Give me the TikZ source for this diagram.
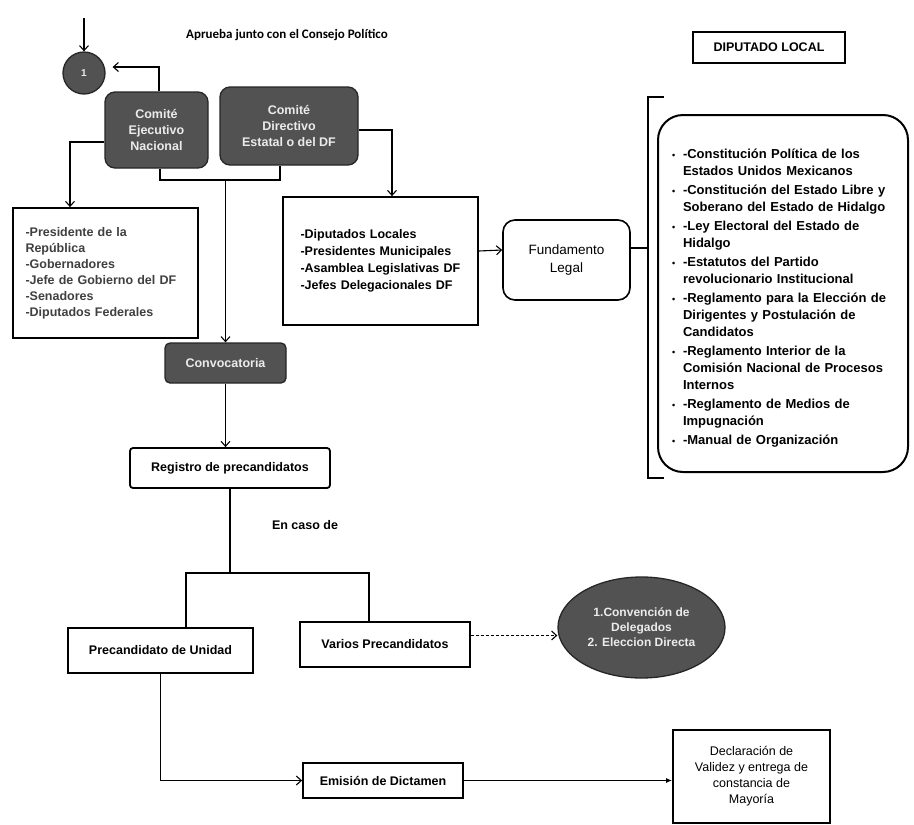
\documentclass[tikz,border=0pt]{standalone}
\usepackage{fontspec}
\setmainfont{Liberation Sans}
\newfontfamily\calibrifont{Carlito}
\usetikzlibrary{arrows.meta,shapes.geometric}

\newcommand{\vineta}[1]{\par\vspace{2pt}\hangindent=11pt\hangafter=1\noindent\makebox[11pt][l]{\small\textbullet}#1}

\begin{document}
\begin{tikzpicture}[
    x=1pt, y=-1pt,
    every node/.style={font=\bfseries\fontsize{12.5}{16}\selectfont},
    gris/.style={draw=black!85, fill=black!68, text=white!92!black, line width=1.3pt, align=center},
    caja/.style={draw, line width=1.8pt, fill=white, align=center},
    lista/.style={caja, align=left, text width=160pt},
    conector/.style={draw, line width=1.1pt},
    flecha/.style={conector, -{Straight Barb[length=5pt,width=9pt,line width=1.1pt]}},
    flechita/.style={conector, -{Latex[length=6pt,width=5pt]}}
]
\useasboundingbox[fill=white] (0,0) rectangle (914,825);

% Comites y punto de inicio
\node[gris, circle, minimum size=42pt, font=\bfseries\fontsize{10}{12}\selectfont] (uno) at (84,73) {1};
\node[font=\calibrifont\bfseries\fontsize{13}{15}\selectfont] (aprueba) at (287,35) {Aprueba junto con el Consejo Político};
\node[gris, rounded corners=10pt, minimum width=103pt, minimum height=76pt] (cen) at (156.5,130) {Comité\\Ejecutivo\\Nacional};
\node[gris, rounded corners=10pt, minimum width=138pt, minimum height=78pt] (cde) at (289,126) {Comité\\Directivo\\Estatal o del DF};

% Cargos
\node[lista, text=black!75, minimum width=185pt, minimum height=130pt] (pres) at (105.5,273)
    {-Presidente de la\\República\\-Gobernadores\\-Jefe de Gobierno del DF\\-Senadores\\-Diputados Federales};
\node[lista, minimum width=195pt, minimum height=128pt, font=\bfseries\fontsize{12.5}{17}\selectfont] (dip) at (380.5,261)
    {-Diputados Locales\\-Presidentes Municipales\\-Asamblea Legislativas DF\\-Jefes Delegacionales DF};
\node[caja, rounded corners=12pt, line width=1.6pt, minimum width=127pt, minimum height=80pt, font=\fontsize{13.5}{18}\selectfont] (fund) at (566.5,260) {Fundamento\\Legal};

% Fundamento legal
\node[caja, line width=1.2pt, minimum width=152pt, minimum height=31pt] (dipl) at (769,47.5) {DIPUTADO LOCAL};
\node[caja, rounded corners=25pt, line width=2pt, minimum width=250pt, minimum height=357pt, text width=222pt, align=left, font=\bfseries\fontsize{13}{17}\selectfont] (marco) at (783,293.5) {%
    \vineta{-Constitución Política de los\newline Estados Unidos Mexicanos}
    \vineta{-Constitución del Estado Libre y\newline Soberano del Estado de Hidalgo}
    \vineta{-Ley Electoral del Estado de\newline Hidalgo}
    \vineta{-Estatutos del Partido\newline revolucionario Institucional}
    \vineta{-Reglamento para la Elección de\newline Dirigentes y Postulación de\newline Candidatos}
    \vineta{-Reglamento Interior de la\newline Comisión Nacional de Procesos\newline Internos}
    \vineta{-Reglamento de Medios de\newline Impugnación}
    \vineta{-Manual de Organización}};

% Proceso
\node[gris, rounded corners=5pt, minimum width=121pt, minimum height=40pt] (conv) at (225.5,363) {Convocatoria};
\node[caja, rounded corners=3pt, minimum width=200pt, minimum height=40pt] (reg) at (230,468) {Registro de precandidatos};
\node (caso) at (305,525) {En caso de};
\node[caja, minimum width=185pt, minimum height=45pt] (prec) at (160.5,650.5) {Precandidato de Unidad};
\node[caja, minimum width=170pt, minimum height=45pt] (var) at (385,644.5) {Varios Precandidatos};
\node[gris, ellipse, minimum width=167pt, minimum height=101pt, font=\bfseries\fontsize{12}{15}\selectfont] (conve) at (641.5,627.5) {1.Convención de\\Delegados\\2. Eleccion Directa};
\node[caja, minimum width=160pt, minimum height=35pt] (emi) at (383,780.5) {Emisión de Dictamen};
\node[caja, minimum width=157pt, minimum height=93pt, font=\fontsize{12.5}{16}\selectfont] (decl) at (751.5,776.5) {Declaración de\\Validez y entrega de\\constancia de\\Mayoría};

% Puntos de paso
\coordinate (inicio) at (84,18);
\coordinate (union) at (225.5,180);
\coordinate (rama) at (230,573);
\coordinate (llaveN) at (648,97);
\coordinate (llaveNE) at (664,97);
\coordinate (llaveM) at (648,248);
\coordinate (llaveS) at (648,478);
\coordinate (llaveSE) at (664,478);

% Conectores
\draw[flecha] (inicio) -- (uno);
\draw[flecha, shorten >=7pt] ([xshift=2.5pt]cen.north) |- ([yshift=6pt]uno.east);
\draw[flecha] ([yshift=-12pt]cen.west) -| ([xshift=-35.5pt]pres.north);
\draw[conector] ([xshift=3.5pt]cen.south) |- (union) -| ([xshift=-9pt]cde.south);
\draw[flecha] (union) -- (conv.north);
\draw[flecha] ([yshift=-4pt]cde.east) -| ([xshift=11.5pt]dip.north);
\draw[flecha] ([yshift=10pt]dip.east) -- ([yshift=10pt]fund.west);
\draw[conector] (fund.east |- llaveM) -- (llaveM);
\draw[conector] (llaveNE) -- (llaveN) -- (llaveS) -- (llaveSE);
\draw[flecha] (conv.south) -- (conv.south |- reg.north);
\draw[conector] (reg.south) -- (rama);
\draw[conector] ([xshift=25.5pt]prec.north) |- (rama) -| ([xshift=-16pt]var.north);
\draw[flecha, densely dashed] ([yshift=9pt]var.east) -- ([yshift=9pt]var.east -| conve.west);
\draw[flecha] (prec.south) |- (emi.west);
\draw[flechita] (emi.east) -- (emi.east -| decl.west);

\end{tikzpicture}
\end{document}
